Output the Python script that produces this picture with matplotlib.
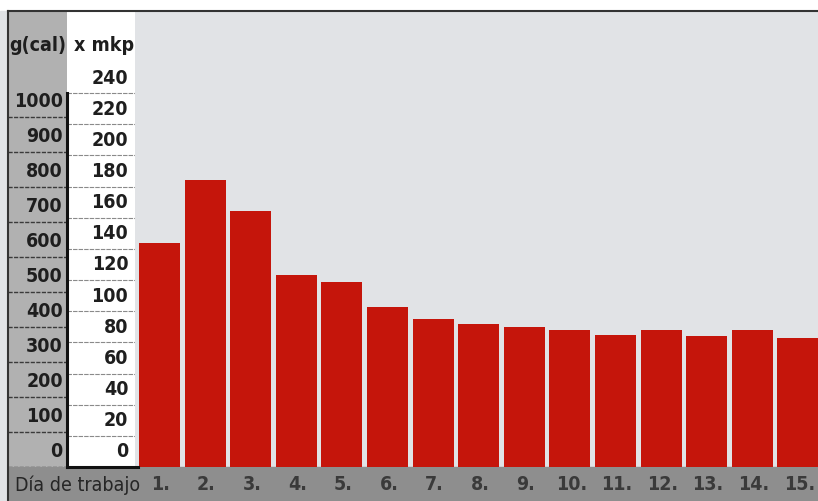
import matplotlib
matplotlib.use("Agg")
import matplotlib.pyplot as plt
from matplotlib.patches import Rectangle
from matplotlib.lines import Line2D
from matplotlib import transforms

plt.rcParams['font.family'] = ['DejaVu Sans']
plt.rcParams['font.stretch'] = 'condensed'

# data
dias = ["1.", "2.", "3.", "4.", "5.", "6.", "7.", "8.", "9.", "10.", "11.", "12.", "13.", "14.", "15."]
trabajo_mkp = [144, 184, 164, 123, 119, 103, 95, 92, 90, 88, 85, 88, 84, 88, 83]
ticks_mkp = [0, 20, 40, 60, 80, 100, 120, 140, 160, 180, 200, 220, 240]
ticks_gcal = [0, 100, 200, 300, 400, 500, 600, 700, 800, 900, 1000]
gcal_per_mkp = 4.45

W, H = 818, 501
PX_MKP = 1.558  # pixels per mkp unit
ytop = (467 - 11) / PX_MKP


def box(x0, y0, x1, y1):
    return [x0 / W, 1 - y1 / H, (x1 - x0) / W, (y1 - y0) / H]


fig = plt.figure(figsize=(W / 100, H / 100), dpi=100)
fig.patch.set_facecolor("white")

# background of the page + bottom strip
fig.add_artist(Rectangle((0, 0), 1, 1 - 11 / H, transform=fig.transFigure,
                         color="#e1e3e6", zorder=-5))
fig.add_artist(Rectangle((8 / W, 0), 1, 34 / H, transform=fig.transFigure,
                         color="#8e8e8e", zorder=-4))

# main bars
ax = fig.add_axes(box(135, 11, 818, 467))
ax.set_facecolor("none")
x = list(range(1, len(dias) + 1))
ax.bar(x, trabajo_mkp, width=0.9, color="#c5150b", zorder=3)
ax.set_xlim(0.463, 15.44)
ax.set_ylim(0, ytop)
ax.axis("off")
trans = transforms.blended_transform_factory(ax.transData, ax.transAxes)
for xi, lab in zip(x, dias):
    ax.text(xi + 0.03, -18 / 456, lab, transform=trans, ha="center", va="center",
            fontsize=14, fontweight="bold", color="#3a3a3a", clip_on=False)

# gray g(cal) panel
axg = fig.add_axes(box(8, 11, 67, 467))
axg.set_facecolor("#b1b1b1")
axg.set_ylim(0, ytop * gcal_per_mkp)
axg.set_xlim(0, 1)
axg.set_xticks([])
axg.set_yticks([])
for s in axg.spines.values():
    s.set_visible(False)
for v in ticks_gcal:
    axg.axhline(v, color="#3a3a3a", lw=1, ls=(0, (3, 1)))
    axg.annotate(str(v), xy=(0.93, v), xycoords=("axes fraction", "data"),
                 xytext=(0, 4), textcoords="offset points", ha="right", va="bottom",
                 fontsize=14, fontweight="bold", color="#1e1e1e")
axg.text(0.5, 0.925, "g(cal)", transform=axg.transAxes, ha="center", va="center",
         fontsize=14, fontweight="bold", color="#1e1e1e")

# white mkp panel
axw = fig.add_axes(box(67, 11, 135, 467))
axw.set_facecolor("white")
axw.set_ylim(0, ytop)
axw.set_xlim(0, 1)
axw.set_xticks([])
axw.set_yticks([])
for s in axw.spines.values():
    s.set_visible(False)
for v in ticks_mkp[1:]:
    axw.axhline(v, color="#8a8a8a", lw=0.8, ls=(0, (4, 1)))
for v in ticks_mkp:
    axw.annotate(str(v), xy=(0.9, v), xycoords=("axes fraction", "data"),
                 xytext=(0, 4), textcoords="offset points", ha="right", va="bottom",
                 fontsize=14, fontweight="bold", color="#1e1e1e")
axw.text(0.55, 0.925, "x mkp", transform=axw.transAxes, ha="center", va="center",
         fontsize=14, fontweight="bold", color="#1e1e1e")
tw = transforms.blended_transform_factory(axw.transAxes, axw.transData)
axw.plot([0, 0], [0, ticks_mkp[-1]], transform=tw, color="#111111", lw=2.2, clip_on=False)
axw.plot([0, 1.05], [0, 0], transform=tw, color="#111111", lw=2.2, clip_on=False)

# frame lines
fig.add_artist(Line2D([8 / W, 1], [1 - 11 / H, 1 - 11 / H], transform=fig.transFigure,
                      color="#333333", lw=1.5))
fig.add_artist(Line2D([8 / W, 8 / W], [0, 1 - 11 / H], transform=fig.transFigure,
                      color="#333333", lw=1.5))

fig.text(78 / W, 1 - 485 / H, "Día de trabajo", ha="center", va="center",
         fontsize=14, color="#262626")

fig.savefig("out.png", dpi=100)
